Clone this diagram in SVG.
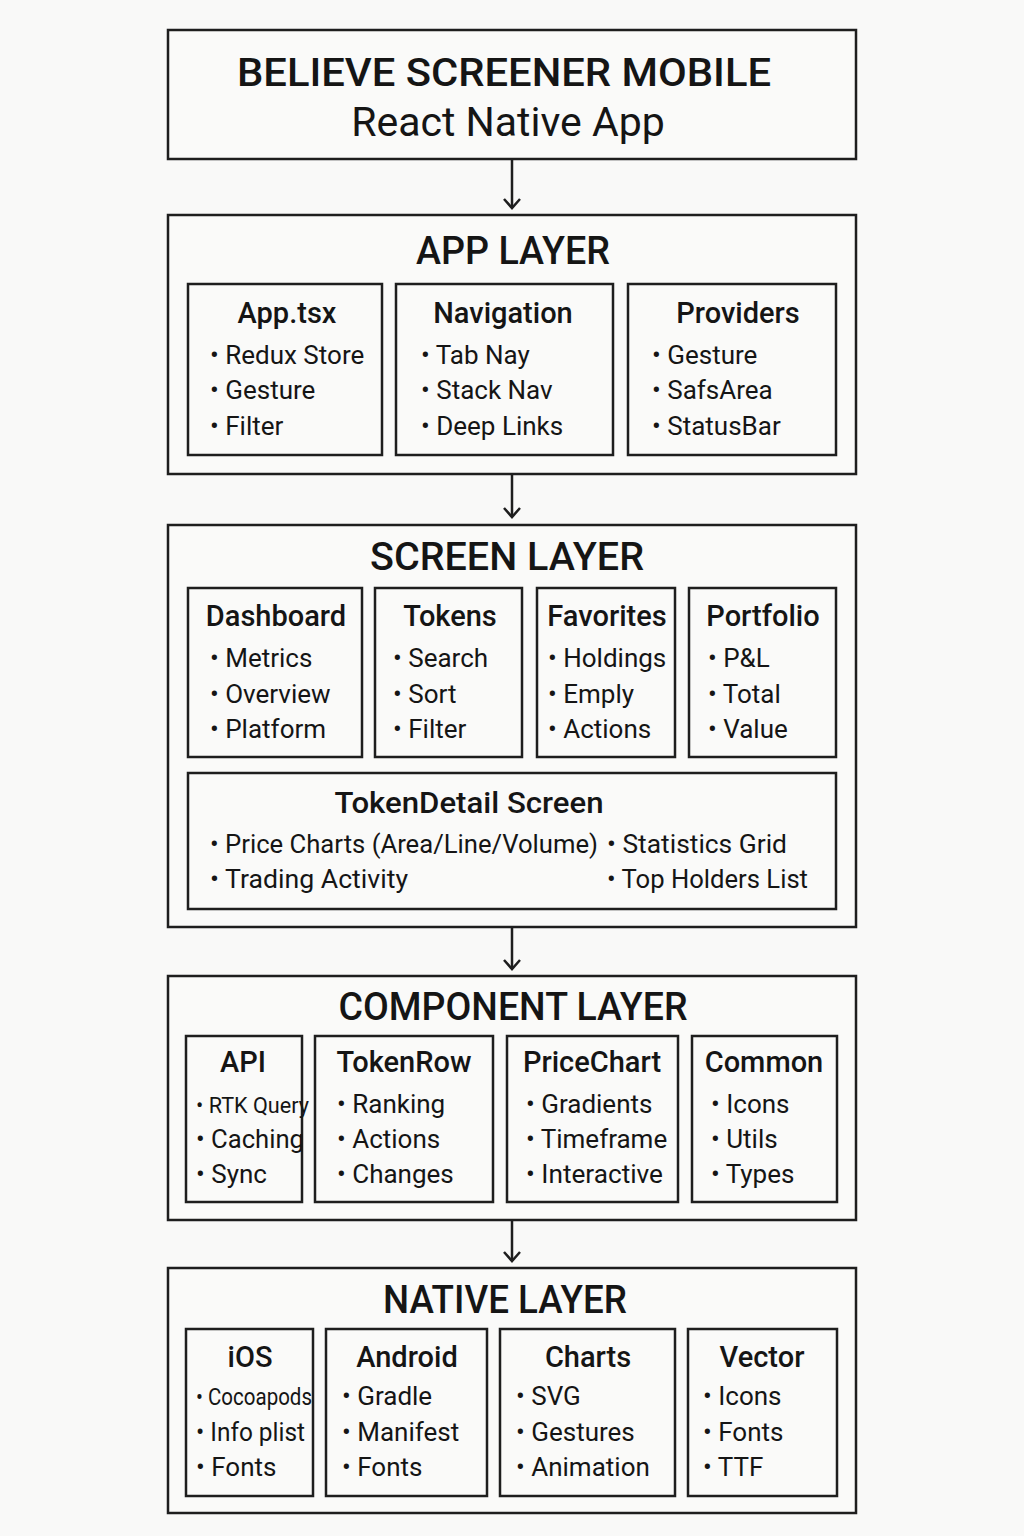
<svg xmlns="http://www.w3.org/2000/svg" width="1024" height="1536" viewBox="0 0 1024 1536">
<style>
.bg{fill:#f9f9f8}
.box{fill:#fafaf9;stroke:#1e1e1e;stroke-width:2.5}
.inner{fill:#fafaf9;stroke:#1e1e1e;stroke-width:2.5}
text{font-family:Roboto,"Liberation Sans",sans-serif;fill:#151515}
.t1{font-size:39px;font-weight:500;text-anchor:middle}
.t2{font-size:41px;text-anchor:middle}
.layer{font-size:38px;font-weight:500;text-anchor:middle}
.h{font-size:29px;font-weight:500;text-anchor:middle}
.b{font-size:26px}
.conn{stroke:#1e1e1e;stroke-width:2.5;fill:none}
</style>
<defs>
<marker id="arr" viewBox="0 0 20 20" refX="16" refY="10" markerWidth="20" markerHeight="20" markerUnits="userSpaceOnUse" orient="auto">
<path d="M7,2 L16,10 L7,18" fill="none" stroke="#1e1e1e" stroke-width="2.5"/>
</marker>
</defs>
<rect class="bg" x="0" y="0" width="1024" height="1536"/>

<g id="connectors">
<line class="conn" x1="512" y1="160" x2="512" y2="208" marker-end="url(#arr)"/>
<line class="conn" x1="512" y1="475" x2="512" y2="517" marker-end="url(#arr)"/>
<line class="conn" x1="512" y1="928" x2="512" y2="969" marker-end="url(#arr)"/>
<line class="conn" x1="512" y1="1221" x2="512" y2="1261" marker-end="url(#arr)"/>
</g>

<g id="header">
<rect class="box" x="168" y="30" width="688" height="129"/>
<text class="t1" x="504" y="86" textLength="534" lengthAdjust="spacingAndGlyphs">BELIEVE SCREENER MOBILE</text>
<text class="t2" x="508" y="136">React Native App</text>
</g>

<g id="app-layer">
<rect class="box" x="168" y="215" width="688" height="259"/>
<text class="layer" x="513" y="264" textLength="194" lengthAdjust="spacingAndGlyphs">APP LAYER</text>
</g>
<g id="app-tsx">
<rect class="inner" x="188" y="284" width="194" height="171"/>
<text class="h" x="287" y="323">App.tsx</text>
<text class="b" x="210" y="364">• Redux Store</text>
<text class="b" x="210" y="399">• Gesture</text>
<text class="b" x="210" y="435">• Filter</text>
</g>
<g id="navigation">
<rect class="inner" x="396" y="284" width="217" height="171"/>
<text class="h" x="503" y="323">Navigation</text>
<text class="b" x="421" y="364">• Tab Nay</text>
<text class="b" x="421" y="399">• Stack Nav</text>
<text class="b" x="421" y="435">• Deep Links</text>
</g>
<g id="providers">
<rect class="inner" x="628" y="284" width="208" height="171"/>
<text class="h" x="738" y="323">Providers</text>
<text class="b" x="652" y="364">• Gesture</text>
<text class="b" x="652" y="399">• SafsArea</text>
<text class="b" x="652" y="435">• StatusBar</text>
</g>

<g id="screen-layer">
<rect class="box" x="168" y="525" width="688" height="402"/>
<text class="layer" x="507" y="570" textLength="274" lengthAdjust="spacingAndGlyphs">SCREEN LAYER</text>
</g>
<g id="dashboard">
<rect class="inner" x="188" y="588" width="174" height="169"/>
<text class="h" x="276" y="626">Dashboard</text>
<text class="b" x="210" y="667">• Metrics</text>
<text class="b" x="210" y="703">• Overview</text>
<text class="b" x="210" y="738">• Platform</text>
</g>
<g id="tokens">
<rect class="inner" x="375" y="588" width="147" height="169"/>
<text class="h" x="450" y="626">Tokens</text>
<text class="b" x="393" y="667">• Search</text>
<text class="b" x="393" y="703">• Sort</text>
<text class="b" x="393" y="738">• Filter</text>
</g>
<g id="favorites">
<rect class="inner" x="537" y="588" width="138" height="169"/>
<text class="h" x="607" y="626">Favorites</text>
<text class="b" x="548" y="667">• Holdings</text>
<text class="b" x="548" y="703">• Emply</text>
<text class="b" x="548" y="738">• Actions</text>
</g>
<g id="portfolio">
<rect class="inner" x="689" y="588" width="147" height="169"/>
<text class="h" x="763" y="626">Portfolio</text>
<text class="b" x="708" y="667">• P&amp;L</text>
<text class="b" x="708" y="703">• Total</text>
<text class="b" x="708" y="738">• Value</text>
</g>
<g id="token-detail">
<rect class="inner" x="188" y="773" width="648" height="136"/>
<text class="h" x="469" y="813" textLength="269" lengthAdjust="spacingAndGlyphs">TokenDetail Screen</text>
<text class="b" x="210" y="853" textLength="388" lengthAdjust="spacingAndGlyphs">• Price Charts (Area/Line/Volume)</text>
<text class="b" x="607" y="853" textLength="180" lengthAdjust="spacingAndGlyphs">• Statistics Grid</text>
<text class="b" x="210" y="888" textLength="198" lengthAdjust="spacingAndGlyphs">• Trading Activity</text>
<text class="b" x="607" y="888" textLength="201" lengthAdjust="spacingAndGlyphs">• Top Holders List</text>
</g>

<g id="component-layer">
<rect class="box" x="168" y="976" width="688" height="244"/>
<text class="layer" x="513" y="1020" textLength="349" lengthAdjust="spacingAndGlyphs">COMPONENT LAYER</text>
</g>
<g id="api">
<rect class="inner" x="186" y="1036" width="116" height="166"/>
<text class="h" x="243" y="1072">API</text>
<text class="b" x="196" y="1113" style="font-size:22px" textLength="113" lengthAdjust="spacingAndGlyphs">• RTK Query</text>
<text class="b" x="196" y="1148" textLength="108" lengthAdjust="spacingAndGlyphs">• Caching</text>
<text class="b" x="196" y="1183">• Sync</text>
</g>
<g id="tokenrow">
<rect class="inner" x="315" y="1036" width="178" height="166"/>
<text class="h" x="404" y="1072">TokenRow</text>
<text class="b" x="337" y="1113">• Ranking</text>
<text class="b" x="337" y="1148">• Actions</text>
<text class="b" x="337" y="1183">• Changes</text>
</g>
<g id="pricechart">
<rect class="inner" x="507" y="1036" width="171" height="166"/>
<text class="h" x="592" y="1072">PriceChart</text>
<text class="b" x="526" y="1113">• Gradients</text>
<text class="b" x="526" y="1148">• Timeframe</text>
<text class="b" x="526" y="1183" textLength="137" lengthAdjust="spacingAndGlyphs">• Interactive</text>
</g>
<g id="common">
<rect class="inner" x="692" y="1036" width="145" height="166"/>
<text class="h" x="764" y="1072">Common</text>
<text class="b" x="711" y="1113">• Icons</text>
<text class="b" x="711" y="1148">• Utils</text>
<text class="b" x="711" y="1183">• Types</text>
</g>

<g id="native-layer">
<rect class="box" x="168" y="1268" width="688" height="245"/>
<text class="layer" x="505" y="1313" textLength="244" lengthAdjust="spacingAndGlyphs">NATIVE LAYER</text>
</g>
<g id="ios">
<rect class="inner" x="186" y="1329" width="127" height="167"/>
<text class="h" x="250" y="1367">iOS</text>
<text class="b" x="196" y="1405" style="font-size:23px" textLength="116" lengthAdjust="spacingAndGlyphs">• Cocoapods</text>
<text class="b" x="196" y="1441" textLength="109" lengthAdjust="spacingAndGlyphs">• Info plist</text>
<text class="b" x="196" y="1476">• Fonts</text>
</g>
<g id="android">
<rect class="inner" x="326" y="1329" width="161" height="167"/>
<text class="h" x="407" y="1367">Android</text>
<text class="b" x="342" y="1405">• Gradle</text>
<text class="b" x="342" y="1441">• Manifest</text>
<text class="b" x="342" y="1476">• Fonts</text>
</g>
<g id="charts">
<rect class="inner" x="500" y="1329" width="175" height="167"/>
<text class="h" x="588" y="1367">Charts</text>
<text class="b" x="516" y="1405">• SVG</text>
<text class="b" x="516" y="1441">• Gestures</text>
<text class="b" x="516" y="1476">• Animation</text>
</g>
<g id="vector">
<rect class="inner" x="688" y="1329" width="149" height="167"/>
<text class="h" x="762" y="1367">Vector</text>
<text class="b" x="703" y="1405">• Icons</text>
<text class="b" x="703" y="1441">• Fonts</text>
<text class="b" x="703" y="1476">• TTF</text>
</g>
</svg>
